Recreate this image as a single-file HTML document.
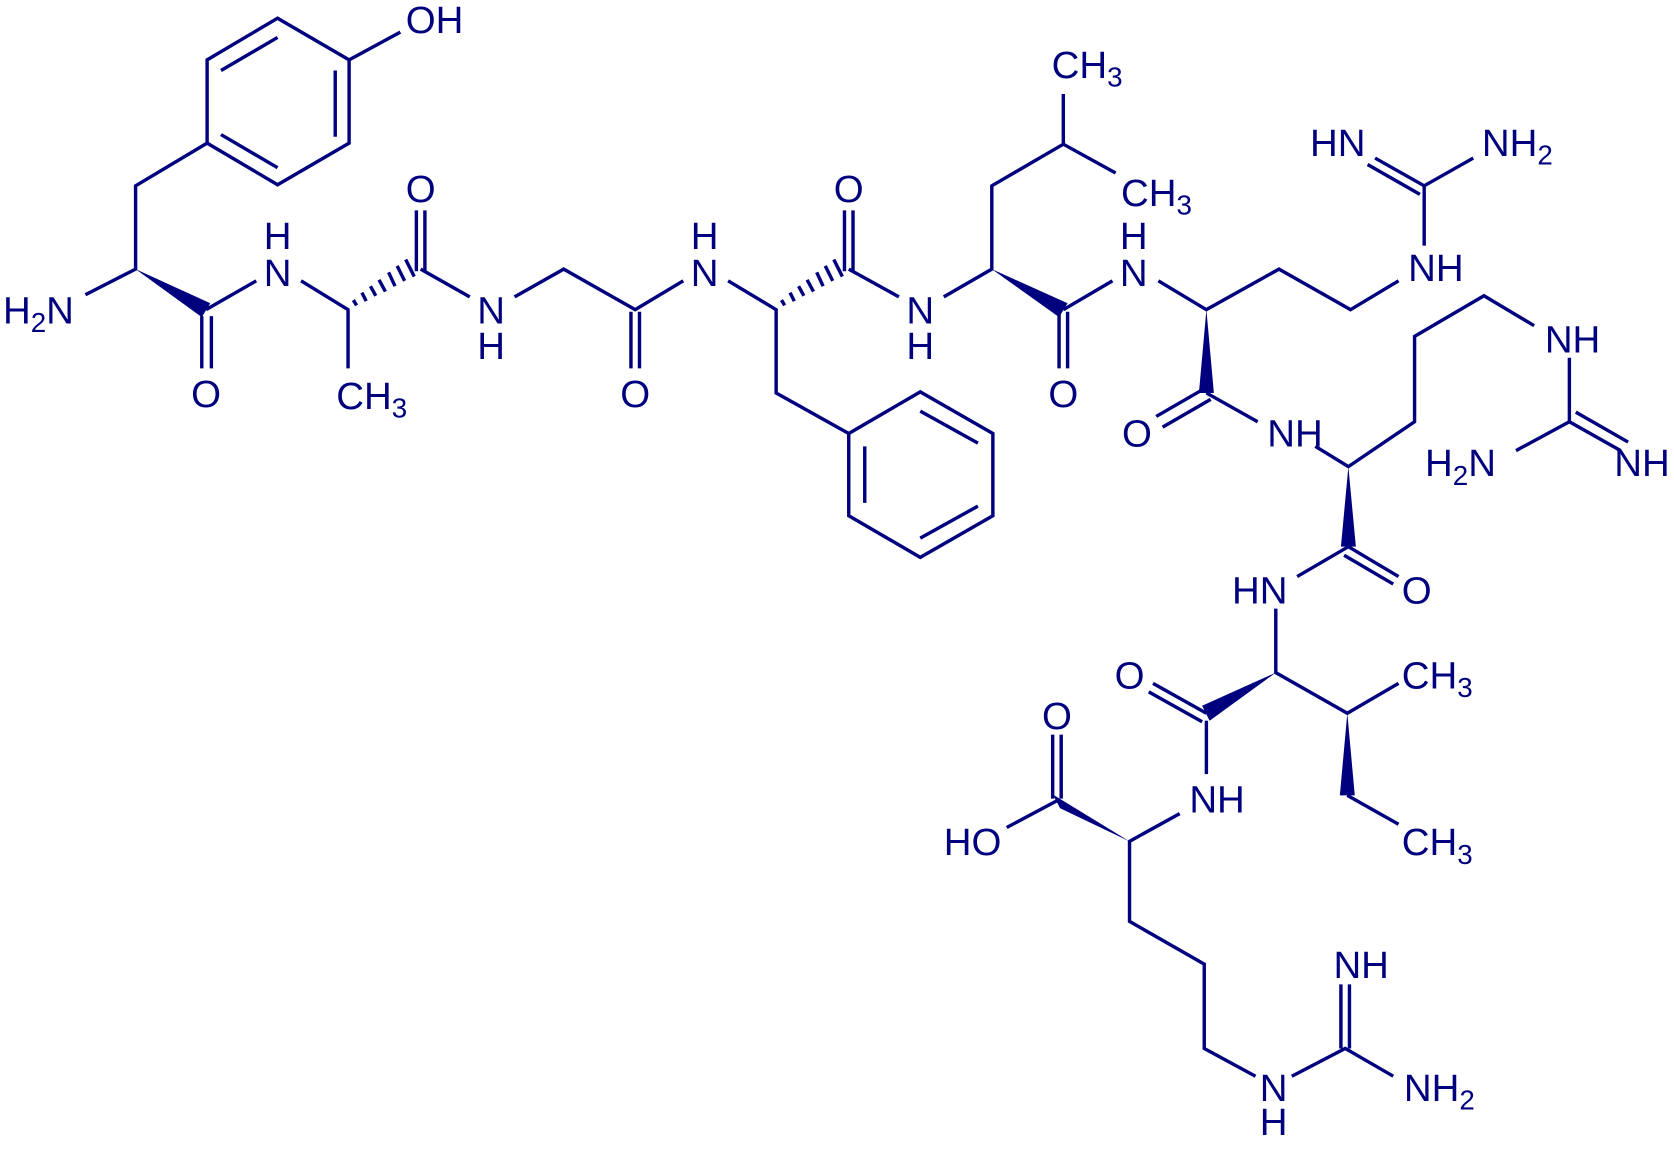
<!DOCTYPE html>
<html><head><meta charset="utf-8"><style>
html,body{margin:0;padding:0;background:#fff;}
svg{display:block}
text{font-family:"Liberation Sans",Arial,sans-serif;font-size:36px;fill:#00007f}
.s{font-size:26px}
</style></head><body>
<svg width="1674" height="1151" viewBox="0 0 1568 1078" xmlns="http://www.w3.org/2000/svg">
<g stroke="#00007f" stroke-width="3.2" fill="none" stroke-linecap="butt">
<!-- Tyr -->
<path d="M80,276 L127,252 L127,174 L194,134"/>
<path d="M194,134 L194,56 L260,17 L327,56 L327,134 L260,173 Z"/>
<path d="M207,66 L260,35 M314,66 L314,128 M207,126 L260,157"/>
<path d="M327,56 L375,30"/>
<path d="M189,296 L189,345 M198,296 L198,345"/>
<path d="M193,290 L240,263 M282,263 L326,290 L326,345"/>
<path d="M334,286 L331,281 M343,282 L339,274 M352,277 L347,268 M361,273 L355,262 M370,268 L364,255 M379,263 L372,249 M388,259 L380,243"/>
<path d="M390,254 L390,197 M398,254 L398,197 M394,252 L440,278"/>
<!-- Gly -->
<path d="M482,278 L528,252 L595,290 L640,263"/>
<path d="M591,292 L591,345 M599,292 L599,345"/>
<!-- Phe -->
<path d="M682,263 L727,290 L727,368 L795,406"/>
<path d="M735,286 L732,281 M744,282 L740,274 M753,277 L748,268 M762,273 L756,262 M771,268 L765,255 M780,263 L773,249 M789,259 L781,243"/>
<path d="M795,406 L862,367 L930,406 L930,483 L862,522 L795,483 Z"/>
<path d="M862,385 L916,415 M810,418 L810,471 M862,504 L916,474"/>
<path d="M791,254 L791,197 M799,254 L799,197 M795,252 L842,278"/>
<!-- Leu -->
<path d="M884,278 L929,252 L929,174 L996,135 L996,88 M996,135 L1045,162"/>
<path d="M992,292 L992,345 M1000,292 L1000,345 M996,290 L1042,263"/>
<!-- Arg1 -->
<path d="M1085,263 L1130,290 L1198,252 L1265,290 L1310,263"/>
<path d="M1334,230 L1334,174 L1380,148 M1334,174 L1288,148 M1330,182 L1281,154"/>
<path d="M1128,364 L1083,390 M1134,374 L1089,400 M1130,368 L1178,395"/>
<!-- Arg2 -->
<path d="M1232,418 L1263,437 L1325,395 L1325,315 L1390,277 L1437,305"/>
<path d="M1470,335 L1470,395 L1420,422 M1470,395 L1518,422 M1476,386 L1525,414"/>
<path d="M1263,512 L1310,540 M1259,520 L1305,547 M1263,512 L1215,540"/>
<!-- Ile -->
<path d="M1195,570 L1195,630 L1262,668 L1310,640 M1262,745 L1310,772"/>
<path d="M1130,668 L1080,640 M1126,676 L1076,648"/>
<path d="M1130,675 L1130,725"/>
<!-- Arg3 -->
<path d="M1105,762 L1058,788 L1058,863 L1128,903 L1128,982 L1176,1008 M1210,1008 L1260,982 L1305,1008"/>
<path d="M1256,982 L1256,922 M1264,982 L1264,922"/>
<path d="M986,748 L986,688 M994,748 L994,688 M990,750 L943,775"/>
</g>
<g fill="#00007f" stroke="none">
<polygon points="127,252 189,297 197,284"/>
<polygon points="929,252 992,297 1000,284"/>
<polygon points="1130,290 1123,368 1137,368"/>
<polygon points="1263,437 1256,512 1270,512"/>
<polygon points="1195,630 1126,661 1133,675"/>
<polygon points="1262,668 1255,745 1269,745"/>
<polygon points="1058,788 986,744 993,757"/>
</g>
<g text-anchor="middle">
<text x="407" y="31">OH</text>
<text x="36" y="303">H<tspan class="s" dy="8">2</tspan><tspan dy="-8">N</tspan></text>
<text x="193" y="381">O</text><text x="260" y="268">N</text><text x="260" y="233">H</text>
<text x="394" y="189">O</text>
<text x="460" y="303">N</text><text x="460" y="336">H</text>
<text x="595" y="381">O</text><text x="660" y="268">N</text><text x="660" y="233">H</text>
<text x="795" y="189">O</text><text x="862" y="303">N</text><text x="862" y="336">H</text>
<text x="996" y="381">O</text><text x="1062" y="268">N</text><text x="1062" y="233">H</text>
<text x="1253" y="146">HN</text>
<text x="1345" y="263">NH</text>
<text x="1065" y="418">O</text><text x="1213" y="418">NH</text>
<text x="1473" y="330">NH</text>
<text x="1368" y="446">H<tspan class="s" dy="8">2</tspan><tspan dy="-8">N</tspan></text>
<text x="1538" y="446">NH</text>
<text x="1327" y="565">O</text><text x="1180" y="565">HN</text>
<text x="1058" y="645">O</text>
<text x="1140" y="761">NH</text>
<text x="990" y="683">O</text><text x="911" y="801">HO</text>
<text x="1275" y="916">NH</text>
<text x="1193" y="1031">N</text><text x="1193" y="1063">H</text>
</g>
<g>
<text x="315" y="383">CH<tspan class="s" dy="8">3</tspan></text>
<text x="985" y="73">CH<tspan class="s" dy="8">3</tspan></text>
<text x="1050" y="193">CH<tspan class="s" dy="8">3</tspan></text>
<text x="1388" y="146">NH<tspan class="s" dy="8">2</tspan></text>
<text x="1313" y="645">CH<tspan class="s" dy="8">3</tspan></text>
<text x="1313" y="801">CH<tspan class="s" dy="8">3</tspan></text>
<text x="1315" y="1031">NH<tspan class="s" dy="8">2</tspan></text>
</g>
</svg>
</body></html>
